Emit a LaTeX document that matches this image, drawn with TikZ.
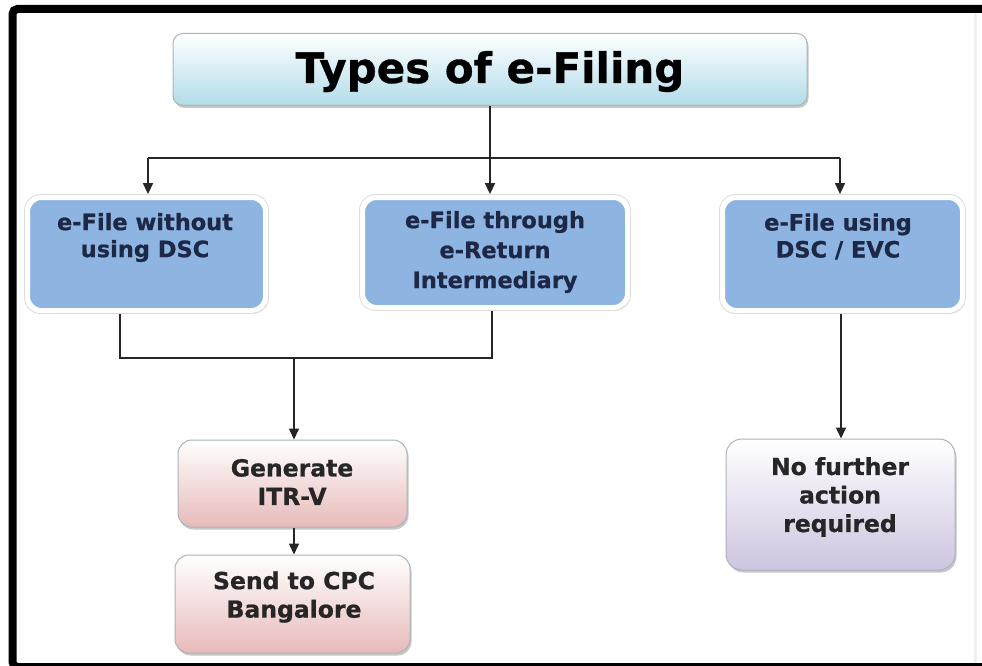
\documentclass[tikz,border=0pt]{standalone}
\usepackage{fontspec}
\setmainfont{DejaVu Sans}[BoldFeatures={FakeBold=0.8}]
\usetikzlibrary{shadows,arrows.meta}
\definecolor{boxblue}{RGB}{142,180,226}
\definecolor{titleblue}{RGB}{178,220,234}
\definecolor{pinkbot}{RGB}{232,186,186}
\definecolor{lavbot}{RGB}{206,196,224}
\definecolor{navytext}{RGB}{28,40,70}
\definecolor{edgegray}{RGB}{170,180,186}
\tikzset{
  shad/.style={drop shadow={shadow xshift=1.5pt, shadow yshift=-2.5pt, fill=gray!80, opacity=0.55}},
  titlebox/.style={rounded corners=10pt, draw=edgegray, line width=1pt, top color=white, bottom color=titleblue, shad},
  bluebox/.style={rounded corners=14pt, draw=white, line width=5pt, fill=boxblue, shad},
  blueedge/.style={rounded corners=16pt, draw=gray!28, line width=0.8pt},
  pinkbox/.style={rounded corners=14pt, draw=edgegray, line width=1pt, top color=white, bottom color=pinkbot, shad},
  lavbox/.style={rounded corners=16pt, draw=edgegray, line width=1pt, top color=white, bottom color=lavbot, shad},
  toptext/.style={font=\bfseries\fontsize{22.5}{27}\selectfont, text=navytext, align=center, inner sep=0pt},
  bottext/.style={font=\bfseries\fontsize{23.5}{28.5}\selectfont, text=black!85, align=center, inner sep=0pt},
  conn/.style={line width=1.6pt, black!85},
  arr/.style={conn, -{Triangle[length=11pt, width=10pt]}}
}
\begin{document}
\begin{tikzpicture}[x=1pt, y=-1pt]
\useasboundingbox (0,0) rectangle (982,666);
\fill[white] (0,0) rectangle (982,666);
\begin{scope}
\clip (0,0) rectangle (982,666);
\draw[line width=8pt, rounded corners=5pt] (990,667) -- (12.5,667) -- (12.5,9) -- (990,9);
\draw[gray!12, line width=3pt] (975,13) -- (975,663);
\end{scope}

% boxes
\node[titlebox, minimum width=634pt, minimum height=72pt] (title) at (490,69.5) {};
\node[font=\bfseries\fontsize{42}{48}\selectfont, anchor=base, inner sep=0pt] (titletext) at (490,83) {Types of e-Filing};

\node[bluebox, minimum width=238pt, minimum height=113pt] (box1) at (146.5,254) {};
\node[blueedge, minimum width=244pt, minimum height=119pt] (e1) at (box1) {};
\node[toptext] (t1) at (145,237.5) {e-File without\\using DSC};

\node[bluebox, minimum width=265pt, minimum height=110pt] (box2) at (495,252.5) {};
\node[blueedge, minimum width=271pt, minimum height=116pt] (e2) at (box2) {};
\node[toptext, font=\bfseries\fontsize{22.5}{30}\selectfont] (t2) at (495,252) {e-File through\\e-Return\\Intermediary};

\node[bluebox, minimum width=240pt, minimum height=113pt] (box3) at (842.5,254) {};
\node[blueedge, minimum width=246pt, minimum height=119pt] (e3) at (box3) {};
\node[toptext] (t3) at (838,236.5) {e-File using\\DSC / EVC};

\node[pinkbox, minimum width=229pt, minimum height=87pt] (box4) at (292.5,483.5) {};
\node[bottext] (t4) at (292,482) {Generate\\ITR-V};

\node[pinkbox, minimum width=235pt, minimum height=98pt] (box5) at (292.5,604) {};
\node[bottext] (t5) at (294,597) {Send to CPC\\Bangalore};

\node[lavbox, minimum width=229pt, minimum height=131pt] (box6) at (840.5,504.5) {};
\node[bottext] (t6) at (840,497) {No further\\action\\required};

% connectors
\coordinate (j1) at (490,158);
\coordinate (jL) at (148,158);
\coordinate (jR) at (840,158);
\draw[conn] (title.south -| j1) -- (j1);
\draw[conn] (jL) -- (jR);
\draw[arr] (jL) -- (jL |- e1.north);
\draw[arr] (j1) -- (j1 |- e2.north);
\draw[arr] (jR) -- (jR |- e3.north);

\coordinate (bL) at (120,358);
\coordinate (bR) at (492,358);
\coordinate (bM) at (294,358);
\draw[conn] (e1.south -| bL) -- (bL) -- (bR) -- (e2.south -| bR);
\draw[arr] (bM) -- (bM |- box4.north);
\draw[arr] (box4.south -| bM) -- (box5.north -| bM);
\coordinate (r6) at (841,0);
\draw[arr] (e3.south -| r6) -- (box6.north -| r6);
\end{tikzpicture}
\end{document}
